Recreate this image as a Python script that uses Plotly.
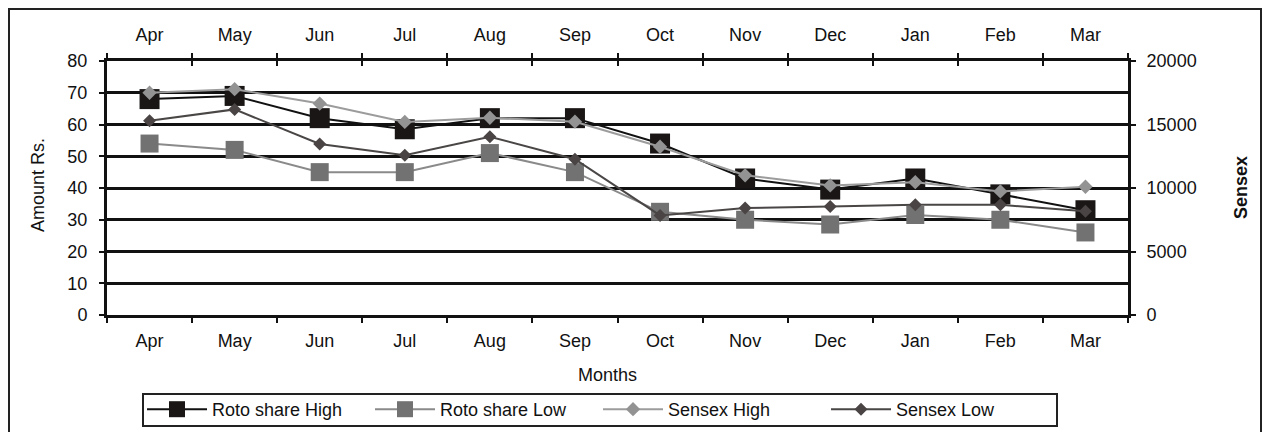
import plotly.graph_objects as go

months = ["Apr", "May", "Jun", "Jul", "Aug", "Sep", "Oct", "Nov", "Dec", "Jan", "Feb", "Mar"]
roto_high = [68, 69, 62, 58.5, 62, 62, 54, 43, 39.5, 43, 38, 33]
roto_low = [54, 52, 45, 45, 51, 45, 32.5, 30, 28.5, 31.5, 30, 26]
sensex_high = [17500, 17780, 16650, 15200, 15530, 15220, 13250, 11000, 10200, 10460, 9730, 10100]
sensex_low = [15300, 16190, 13470, 12580, 14040, 12270, 7840, 8420, 8550, 8680, 8680, 8160]

left_ticks = [0, 10, 20, 30, 40, 50, 60, 70, 80]
right_ticks = [0, 5000, 10000, 15000, 20000]

FONT = "Liberation Sans, Arial, sans-serif"

fig = go.Figure()

fig.add_trace(go.Scatter(
    x=months, y=roto_high, name="Roto share High", mode="lines+markers",
    line=dict(color="#111111", width=2),
    marker=dict(symbol="square", size=20, color="#1a1616"),
    xaxis="x", yaxis="y"))
fig.add_trace(go.Scatter(
    x=months, y=roto_low, name="Roto share Low", mode="lines+markers",
    line=dict(color="#8a8a8a", width=2),
    marker=dict(symbol="square", size=18, color="#727272"),
    xaxis="x", yaxis="y"))
fig.add_trace(go.Scatter(
    x=months, y=sensex_high, name="Sensex High", mode="lines+markers",
    line=dict(color="#9c9c9c", width=2),
    marker=dict(symbol="diamond", size=11, color="#939393"),
    xaxis="x", yaxis="y2"))
fig.add_trace(go.Scatter(
    x=months, y=sensex_low, name="Sensex Low", mode="lines+markers",
    line=dict(color="#4a4646", width=2),
    marker=dict(symbol="diamond", size=10, color="#4a4444"),
    xaxis="x", yaxis="y2"))
# carrier for the top month axis
fig.add_trace(go.Scatter(
    x=months, y=[None] * len(months), showlegend=False, hoverinfo="skip",
    mode="lines", xaxis="x2", yaxis="y"))

tickfont = dict(family=FONT, size=18, color="#111111")

fig.update_layout(
    width=1263, height=432,
    margin=dict(l=107, r=135, t=61, b=117, autoexpand=False),
    paper_bgcolor="white", plot_bgcolor="white",
    font=dict(family=FONT, color="#111111"),
    showlegend=True,
    xaxis=dict(
        type="category", categoryorder="array", categoryarray=months,
        range=[-0.5, 11.5], showgrid=False, zeroline=False, automargin=False,
        showline=True, linecolor="#111111", linewidth=3, mirror="ticks",
        ticks="outside", ticklen=5, tickwidth=2, tickcolor="#111111",
        tickson="boundaries", tickfont=tickfont, ticklabelstandoff=7),
    xaxis2=dict(
        type="category", categoryorder="array", categoryarray=months,
        range=[-0.5, 11.5], overlaying="x", side="top", showgrid=False,
        zeroline=False, showline=False, automargin=False,
        ticks="inside", ticklen=5, tickwidth=2, tickcolor="#111111",
        tickson="boundaries", tickfont=tickfont, ticklabelstandoff=15),
    yaxis=dict(
        range=[0, 80], tickvals=left_ticks, showgrid=True, gridcolor="#111111",
        gridwidth=3, zeroline=False, showline=True, linecolor="#111111",
        linewidth=3, ticks="outside", ticklen=5, tickwidth=2, tickcolor="#111111",
        tickfont=tickfont, ticklabelstandoff=8, automargin=False),
    yaxis2=dict(
        range=[0, 20000], tickvals=right_ticks, tickformat="d", overlaying="y",
        side="right", automargin=False,
        showgrid=False, zeroline=False, showline=True, linecolor="#111111",
        linewidth=3, ticks="outside", ticklen=5, tickwidth=2, tickcolor="#111111",
        tickfont=tickfont, ticklabelstandoff=7),
    legend=dict(
        orientation="h", x=0.0343, xanchor="left", y=(315 - 391) / 254, yanchor="top",
        borderwidth=0, bgcolor="rgba(0,0,0,0)",
        font=dict(family=FONT, size=18, color="#111111"),
        itemwidth=60, entrywidth=153, entrywidthmode="pixels", traceorder="normal"),
    annotations=[
        dict(text="Months", xref="paper", yref="paper", x=0.49, y=(315 - 375) / 254,
             xanchor="center", yanchor="middle", showarrow=False,
             font=dict(family=FONT, size=18, color="#111111")),
        dict(text="Amount Rs.", xref="paper", yref="paper", x=(38 - 107) / 1021,
             y=(315 - 185) / 254, xanchor="center", yanchor="middle", textangle=-90,
             showarrow=False, font=dict(family=FONT, size=18, color="#111111")),
        dict(text="<b>Sensex</b>", xref="paper", yref="paper", x=(1241 - 107) / 1021,
             y=(315 - 188) / 254, xanchor="center", yanchor="middle", textangle=-90,
             showarrow=False, font=dict(family=FONT, size=18, color="#111111")),
    ],
    shapes=[
        dict(type="rect", xref="paper", yref="paper",
             x0=(9 - 107) / 1021, x1=(1261 - 107) / 1021,
             y0=(315 - 440) / 254, y1=(315 - 9) / 254,
             line=dict(color="#222222", width=2), fillcolor="rgba(0,0,0,0)",
             layer="below"),
        # legend frame
        dict(type="rect", xref="paper", yref="paper",
             x0=(143 - 107) / 1021, x1=(1057 - 107) / 1021,
             y0=(315 - 426) / 254, y1=(315 - 394) / 254,
             line=dict(color="#222222", width=2), fillcolor="rgba(0,0,0,0)",
             layer="above"),
    ],
)

fig.write_html(
    "out.html",
    config={"displayModeBar": False},
    post_script="document.body.style.margin='0';document.body.style.overflow='hidden';",
)
